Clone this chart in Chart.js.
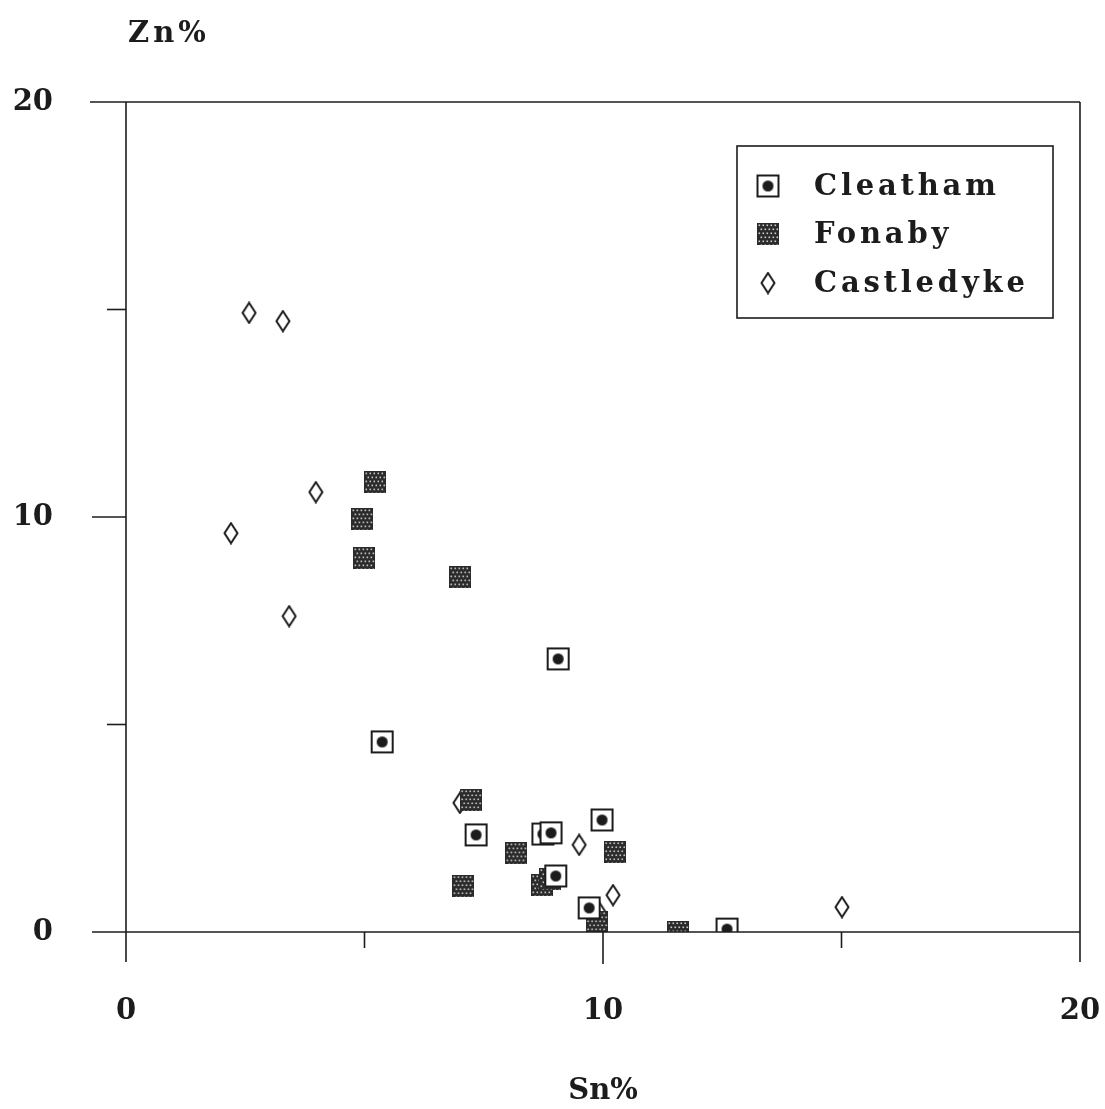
<!DOCTYPE html>
<html>
<head>
<meta charset="utf-8">
<script src="https://cdn.jsdelivr.net/npm/chart.js@4.4.1/dist/chart.umd.min.js"></script>
<style>
  html, body { margin: 0; padding: 0; background: #fff; overflow: hidden; }
  #wrap { width: 1105px; height: 1109px; }
</style>
</head>
<body>
<div id="wrap"><canvas id="chart"></canvas></div>
<script>
// values (Sn % on x, Zn % on y)
const cleathamSn = [9.06, 5.37, 7.34, 8.74, 8.91, 9.98, 9.01, 9.71, 12.60];
const cleathamZn = [6.58, 4.58, 2.34, 2.36, 2.39, 2.70, 1.35, 0.58, 0.07];

const fonabySn = [5.22, 4.95, 4.99, 7.00, 7.23, 8.18, 7.07, 10.25, 8.72, 8.89, 9.87, 11.57];
const fonabyZn = [10.84, 9.95, 9.01, 8.55, 3.18, 1.90, 1.11, 1.93, 1.13, 1.28, 0.24, 0.0];

const castledykeSn = [2.58, 3.29, 3.98, 2.20, 3.42, 7.00, 9.50, 10.21, 9.92, 15.01];
const castledykeZn = [14.92, 14.72, 10.60, 9.61, 7.61, 3.11, 2.10, 0.89, 0.48, 0.60];

const xTicks = [0, 10, 20];
const yTicks = [0, 10, 20];
const minorTicks = [5, 15];

const ink = '#1c1c1c';
const serif = "'DejaVu Serif', 'Liberation Serif', serif";

const toPoints = (xs, ys) => xs.map((x, i) => ({ x, y: ys[i] }));

// marker images
function cleathamMarker() {
  const c = document.createElement('canvas');
  c.width = 25; c.height = 25;
  const g = c.getContext('2d');
  g.fillStyle = '#fff';
  g.fillRect(2, 2, 21, 21);
  g.strokeStyle = ink;
  g.lineWidth = 2;
  g.strokeRect(2, 2, 21, 21);
  g.fillStyle = ink;
  g.beginPath();
  g.arc(12.5, 12.5, 5.5, 0, Math.PI * 2);
  g.fill();
  return c;
}

function fonabyMarker() {
  const c = document.createElement('canvas');
  c.width = 22; c.height = 22;
  const g = c.getContext('2d');
  g.fillStyle = '#2a2a2a';
  g.fillRect(0, 0, 22, 22);
  g.fillStyle = '#cfcfcf';
  for (let r = 0; r < 6; r++) {
    for (let k = 0; k < 6; k++) {
      const px = 1.5 + k * 4 + (r % 2) * 2;
      const py = 1.5 + r * 4;
      if (px < 21) g.fillRect(px, py, 1.6, 1.6);
    }
  }
  return c;
}

function castledykeMarker() {
  const c = document.createElement('canvas');
  c.width = 16; c.height = 23;
  const g = c.getContext('2d');
  g.beginPath();
  g.moveTo(8, 1.5);
  g.lineTo(14.5, 11.5);
  g.lineTo(8, 21.5);
  g.lineTo(1.5, 11.5);
  g.closePath();
  g.fillStyle = '#fff';
  g.fill();
  g.strokeStyle = ink;
  g.lineWidth = 2;
  g.stroke();
  return c;
}

const markers = [cleathamMarker(), fonabyMarker(), castledykeMarker()];

// frame, tick marks, Zn% label and the boxed legend
const framePlugin = {
  id: 'frame',
  afterDraw(chart) {
    const { ctx } = chart;
    const xs = chart.scales.x;
    const ys = chart.scales.y;
    const x0 = xs.getPixelForValue(0), x20 = xs.getPixelForValue(20);
    const y0 = ys.getPixelForValue(0), y20 = ys.getPixelForValue(20);
    ctx.save();
    ctx.strokeStyle = ink;
    ctx.lineWidth = 1.6;
    const line = (a, b, c, d) => {
      ctx.beginPath(); ctx.moveTo(a, b); ctx.lineTo(c, d); ctx.stroke();
    };
    // box, major ticks stick out past it
    line(x0 - 36, y20, x20, y20);
    line(x0 - 34, y0, x20, y0);
    line(x0, y20, x0, y0 + 30);
    line(x20, y20, x20, y0 + 30);
    line(x0 - 34, ys.getPixelForValue(10), x0, ys.getPixelForValue(10));
    line(xs.getPixelForValue(10), y0, xs.getPixelForValue(10), y0 + 32);
    minorTicks.forEach(v => {
      line(x0 - 19, ys.getPixelForValue(v), x0, ys.getPixelForValue(v));
      line(xs.getPixelForValue(v), y0, xs.getPixelForValue(v), y0 + 16);
    });

    ctx.fillStyle = ink;
    ctx.font = 'bold 29px ' + serif;
    ctx.textAlign = 'left';
    ctx.textBaseline = 'middle';
    ctx.letterSpacing = '4px';
    ctx.fillText('Zn%', 128, 34);

    // legend
    const lx = 737, ly = 146, lw = 316, lh = 172;
    ctx.lineWidth = 1.6;
    ctx.strokeRect(lx, ly, lw, lh);
    ctx.letterSpacing = '3.8px';
    const rows = [186, 234, 283];
    chart.data.datasets.forEach((ds, i) => {
      const img = markers[i];
      ctx.drawImage(img, 768 - img.width / 2, rows[i] - img.height / 2);
      ctx.fillText(ds.label, 814, rows[i] + 1);
    });
    ctx.restore();
  }
};

new Chart(document.getElementById('chart'), {
  type: 'scatter',
  data: {
    datasets: [
      {
        label: 'Cleatham',
        data: toPoints(cleathamSn, cleathamZn),
        pointStyle: markers[0],
      },
      {
        label: 'Fonaby',
        data: toPoints(fonabySn, fonabyZn),
        pointStyle: markers[1],
      },
      {
        label: 'Castledyke',
        data: toPoints(castledykeSn, castledykeZn),
        pointStyle: markers[2],
      },
    ],
  },
  options: {
    responsive: true,
    maintainAspectRatio: false,
    animation: false,
    layout: {
      padding: { top: 102, right: 25, left: 0, bottom: 0 },
    },
    scales: {
      x: {
        type: 'linear',
        min: 0,
        max: 20,
        afterFit: (scale) => {
          scale.height = 177;
          scale.paddingLeft = 0;
          scale.paddingRight = 0;
        },
        afterBuildTicks: (scale) => { scale.ticks = xTicks.map(v => ({ value: v })); },
        grid: { display: false, drawTicks: false },
        border: { display: false },
        ticks: {
          padding: 62,
          maxRotation: 0,
          color: ink,
          font: { family: serif, weight: 'bold', size: 29 },
        },
        title: {
          display: true,
          text: 'Sn%',
          color: ink,
          font: { family: serif, weight: 'bold', size: 29 },
          padding: { top: 0, bottom: 0 },
        },
      },
      y: {
        type: 'linear',
        min: 0,
        max: 20,
        afterFit: (scale) => {
          scale.width = 126;
          scale.paddingTop = 0;
          scale.paddingBottom = 0;
        },
        afterBuildTicks: (scale) => { scale.ticks = yTicks.map(v => ({ value: v })); },
        grid: { display: false, drawTicks: false },
        border: { display: false },
        ticks: {
          padding: 73,
          color: ink,
          font: { family: serif, weight: 'bold', size: 29 },
        },
      },
    },
    plugins: {
      legend: { display: false },
      tooltip: { enabled: false },
    },
  },
  plugins: [framePlugin],
});
</script>
</body>
</html>
